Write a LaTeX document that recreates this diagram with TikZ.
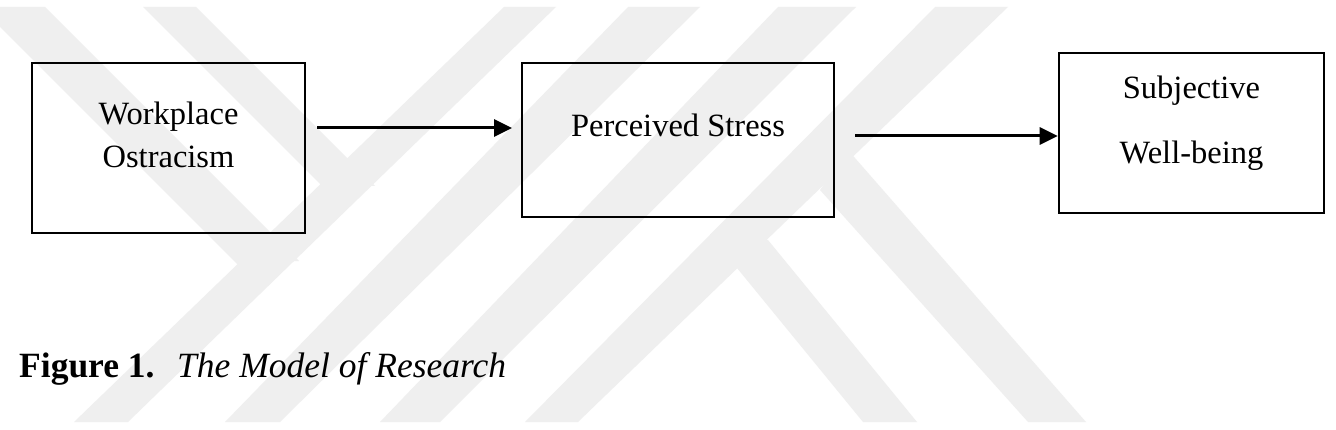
\documentclass[tikz,border=0pt]{standalone}
\usepackage{fontspec}
\setmainfont{Liberation Serif}
\usetikzlibrary{arrows.meta}
\definecolor{wm}{RGB}{239,239,239}
\tikzset{
  box/.style={draw=black,line width=2.6pt,inner sep=0pt},
  lbl/.style={anchor=base,inner sep=0pt,font=\fontsize{32.5}{39}\selectfont},
  capb/.style={anchor=base west,inner sep=0pt,font=\fontsize{35.5}{42}\selectfont\bfseries},
  capi/.style={anchor=base west,inner sep=0pt,font=\fontsize{35.5}{42}\selectfont\itshape},
  conn/.style={line width=3pt,-{Triangle[length=18pt,width=17pt]}},
  band/.style={fill=wm,draw=none}
}
\begin{document}
\begin{tikzpicture}[x=1pt,y=-1pt]
\useasboundingbox (0,0) rectangle (1336,430);
\fill[white] (0,0) rectangle (1336,430);
% watermark
\begin{scope}
\clip (0,7) rectangle (1336,422);
\fill[band] (504,7) -- (556,7) -- (128,422) -- (74,422) -- cycle;
\fill[band] (628,7) -- (700,7) -- (280,422) -- (225,422) -- cycle;
\fill[band] (778,7) -- (856,7) -- (440,422) -- (380,422) -- cycle;
\fill[band] (935,7) -- (1008,7) -- (578,422) -- (525,422) -- cycle;
\fill[band] (-20,7) -- (45,7) -- (299,261) -- (237,264) -- cycle;
\fill[band] (143,7) -- (196,7) -- (375,186) -- (320,184) -- cycle;
\fill[band] (710,235) -- (768,240) -- (917,422) -- (863,422) -- cycle;
\fill[band] (820,190) -- (848,150) -- (1086,422) -- (1028,422) -- cycle;
\end{scope}
% boxes
\node[box,minimum width=273pt,minimum height=170pt] (b1) at (168.5,148) {};
\node[box,minimum width=312pt,minimum height=154pt] (b2) at (678,140) {};
\node[box,minimum width=265pt,minimum height=160pt] (b3) at (1191.5,133) {};
% labels
\node[lbl] (t1a) at (168.5,125) {Workplace};
\node[lbl] (t1b) at (168.5,168) {Ostracism};
\node[lbl] (t2) at (678,137) {Perceived Stress};
\node[lbl] (t3a) at (1191.5,99) {Subjective};
\node[lbl] (t3b) at (1191.5,164) {Well-being};
% connectors
\coordinate (a1s) at (317,128);
\coordinate (a1e) at (512,128);
\coordinate (a2s) at (855,136);
\draw[conn] (a1s) -- (a1e);
\draw[conn] (a2s) -- (a2s -| b3.west);
% caption
\node[capb] (fig) at (19,377) {Figure 1.};
\node[capi] (title) at (177,377) {The Model of Research};
\end{tikzpicture}
\end{document}
